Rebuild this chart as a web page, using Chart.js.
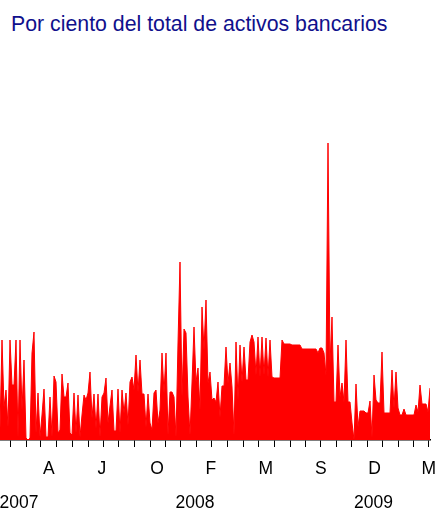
<!DOCTYPE html>
<html>
<head>
<meta charset="utf-8">
<script src="https://cdn.jsdelivr.net/npm/chart.js@4/dist/chart.umd.min.js"></script>
<style>
  html, body { margin: 0; padding: 0; background: #fff; overflow: hidden; width: 438px; height: 510px; }
  #sub { position: absolute; left: 11px; top: 13.7px; font: 21.3px 'Liberation Sans', Arial, sans-serif; line-height: 1; color: #10108c; white-space: nowrap; }
  #wrap { position: absolute; left: -40px; top: 0; width: 520px; height: 510px; }
</style>
</head>
<body>
<div id="sub">Por ciento del total de activos bancarios</div>
<div id="wrap"><canvas id="c"></canvas></div>
<script>
// Serie: por ciento del total de activos bancarios (observaciones sucesivas, ene-2007 a mar-2009)
const valores = [
 0.12,1.00,0.33,0.50,0.13,1.00,0.55,0.55,1.00,0.03,
 1.00,0.30,0.80,0.02,0.00,0.02,0.87,1.08,0.07,0.47,
 0.03,0.25,0.51,0.03,0.03,0.43,0.03,0.64,0.58,0.07,
 0.10,0.66,0.43,0.43,0.57,0.07,0.05,0.47,0.07,0.45,
 0.03,0.25,0.45,0.40,0.47,0.68,0.22,0.46,0.12,0.46,
 0.03,0.43,0.47,0.62,0.17,0.34,0.50,0.09,0.09,0.51,
 0.07,0.50,0.27,0.47,0.15,0.58,0.63,0.50,0.85,0.48,
 0.80,0.46,0.46,0.13,0.46,0.17,0.10,0.47,0.50,0.17,
 0.30,0.87,0.47,0.87,0.05,0.48,0.48,0.43,0.03,0.97,
 1.78,0.43,1.11,1.07,0.43,0.05,0.57,1.13,0.58,0.72,
 0.30,1.33,0.90,1.40,0.57,0.68,0.40,0.42,0.38,0.58,
 0.23,0.54,0.54,0.93,0.57,0.77,0.53,0.05,0.98,0.40,
 0.95,0.58,0.93,0.60,0.60,0.98,1.05,0.98,0.65,1.03,
 0.63,1.03,0.65,1.02,0.63,1.00,0.63,0.62,0.62,0.62,
 0.62,1.00,0.96,0.96,0.96,0.96,0.95,0.95,0.95,0.95,
 0.95,0.91,0.91,0.91,0.91,0.91,0.91,0.91,0.91,0.87,
 0.92,0.92,0.87,0.65,2.97,0.77,1.23,0.38,0.38,0.95,
 0.43,0.57,0.38,1.00,0.38,0.38,0.17,0.00,0.56,0.13,
 0.29,0.29,0.29,0.27,0.27,0.39,0.03,0.65,0.40,0.37,
 0.37,0.88,0.27,0.27,0.27,0.27,0.70,0.32,0.68,0.32,
 0.25,0.25,0.31,0.25,0.25,0.25,0.25,0.25,0.35,0.28,
 0.55,0.36,0.36,0.36,0.28,0.52
];

// Marcas mensuales (índice de observación)
const marcasMes = [5,13,20.35,28.35,36.35,44.15,51.65,59.15,67,75,82.85,90,98,105.85,
  113.65,121.65,129.15,137,145,152.5,160.35,168.35,175.85,183.65,191.35,199.15,206.65,214.15];

// Etiquetas de meses y años
const etiquetasMes = ['A','J','O','F','M','S','D','M'];
const posMes = [24.4,50.9,78.5,105.4,132.9,160.4,187.25,214.4];
const etiquetasAnio = ['2007','2008','2009'];
const posAnio = [9.5,97.5,186.7];

const fuente = "'Liberation Sans', Arial, sans-serif";
const xMax = valores.length - 1;

const baseX = {
  type: 'linear', position: 'bottom', min: 0, max: xMax, offset: false
};

new Chart(document.getElementById('c'), {
  type: 'line',
  data: {
    datasets: [{
      data: valores.map((v, i) => ({ x: i, y: v })),
      borderColor: '#ff0000',
      backgroundColor: '#ff0000',
      borderWidth: 1,
      fill: 'origin',
      pointRadius: 0,
      tension: 0
    }]
  },
  options: {
    responsive: true,
    maintainAspectRatio: false,
    animation: false,
    layout: { padding: { left: 40, right: 50, top: 60, bottom: 0 } },
    plugins: { legend: { display: false }, tooltip: { enabled: false } },
    scales: {
      y: { display: false, min: 0, max: 3.8 },
      x: Object.assign({}, baseX, {
        weight: 1,
        grid: { display: true, drawOnChartArea: false, drawTicks: true, tickLength: 7, tickWidth: 1, tickColor: '#000' },
        border: { display: true, color: '#000', width: 1.5 },
        ticks: { display: false, autoSkip: false },
        afterBuildTicks: s => { s.ticks = marcasMes.map(v => ({ value: v })); },
        afterFit: s => { s.height = 7; }
      }),
      xm: Object.assign({}, baseX, {
        weight: 2,
        grid: { display: false, drawTicks: false },
        border: { display: false },
        ticks: { autoSkip: false, maxRotation: 0, padding: 11.8, color: '#000',
          font: { family: fuente, size: 17.5 },
          callback: (v, i) => etiquetasMes[i] },
        afterBuildTicks: s => { s.ticks = posMes.map(v => ({ value: v })); },
        afterFit: s => { s.height = 33; }
      }),
      xy: Object.assign({}, baseX, {
        weight: 3,
        grid: { display: false, drawTicks: false },
        border: { display: false },
        ticks: { autoSkip: false, maxRotation: 0, padding: 12.5, color: '#000',
          font: { family: fuente, size: 17.5 },
          callback: (v, i) => etiquetasAnio[i] },
        afterBuildTicks: s => { s.ticks = posAnio.map(v => ({ value: v })); },
        afterFit: s => { s.height = 30; }
      })
    }
  }
});
</script>
</body>
</html>
